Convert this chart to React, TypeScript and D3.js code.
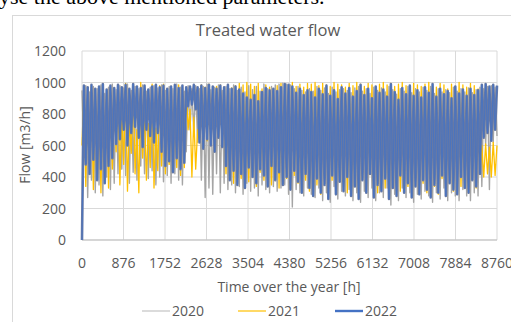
import React from "react";
import * as d3 from "d3";

// hourly flow, sampled every 40 h (220 samples over the year)
const flow2020 = [
  950, 560, 980, 270, 940, 380, 975, 300, 960, 350, 985, 280, 930, 400, 970, 320, 990, 360, 955, 420,
  980, 450, 965, 410, 990, 360, 950, 430, 975, 380, 960, 470, 985, 420, 945, 390, 970, 440, 980, 350,
  965, 400, 985, 370, 950, 410, 975, 360, 960, 420, 990, 380, 970, 350, 945, 560, 980, 700, 960, 680,
  980, 620, 960, 380, 975, 270, 990, 330, 955, 290, 970, 420, 985, 300, 950, 360, 975, 320, 960, 350,
  985, 300, 950, 340, 970, 290, 940, 360, 980, 310, 955, 330, 975, 280, 945, 350, 990, 320, 960, 300,
  975, 340, 985, 310, 990, 330, 995, 350, 990, 290, 985, 210, 960, 320, 975, 300, 950, 280, 940, 330,
  960, 290, 945, 270, 975, 330, 950, 250, 965, 300, 930, 240, 970, 340, 940, 260, 955, 310, 960, 280,
  950, 320, 935, 250, 965, 300, 975, 240, 945, 310, 960, 270, 930, 330, 970, 250, 950, 300, 965, 270,
  940, 330, 975, 222, 955, 290, 925, 250, 960, 330, 945, 270, 975, 300, 935, 240, 960, 290, 940, 260,
  970, 310, 950, 280, 975, 240, 930, 300, 960, 260, 940, 330, 955, 250, 935, 300, 970, 280, 945, 250,
  960, 320, 940, 280, 965, 250, 935, 300, 955, 280, 970, 340, 960, 600, 975, 320, 980, 620, 970, 660,
];

const flow2021 = [
  600, 960, 340, 950, 430, 970, 320, 940, 410, 965, 300, 980, 380, 945, 330, 970, 450, 960, 560, 975,
  350, 820, 480, 995, 310, 760, 550, 985, 420, 700, 300, 1000, 520, 800, 380, 740, 460, 990, 330, 710,
  440, 980, 470, 990, 420, 960, 480, 975, 430, 950, 460, 985, 410, 970, 460, 960, 700, 830, 400, 780,
  450, 700, 660, 985, 700, 970, 630, 990, 680, 960, 650, 975, 700, 985, 640, 960, 420, 980, 380, 965,
  360, 980, 420, 995, 390, 985, 450, 1000, 370, 990, 410, 975, 340, 995, 430, 960, 380, 985, 400, 970,
  350, 960, 420, 980, 330, 995, 440, 960, 390, 985, 320, 1000, 410, 975, 360, 990, 430, 970, 380, 995,
  310, 990, 400, 1000, 350, 980, 290, 995, 420, 985, 330, 975, 380, 1000, 300, 990, 440, 985, 360, 970,
  300, 995, 410, 980, 340, 1000, 280, 990, 390, 975, 320, 995, 430, 985, 350, 970, 300, 990, 380, 1000,
  330, 985, 290, 995, 400, 975, 350, 990, 310, 1000, 420, 980, 340, 965, 300, 995, 380, 985, 320, 975,
  360, 990, 300, 1000, 410, 980, 340, 970, 290, 995, 390, 985, 330, 960, 420, 990, 310, 975, 370, 1000,
  340, 985, 420, 970, 300, 995, 380, 980, 330, 960, 420, 600, 400, 610, 420, 590, 400, 620, 410, 600,
];

const flow2022 = [
  0, 980, 480, 970, 420, 985, 510, 960, 380, 975, 450, 990, 360, 955, 470, 980, 520, 965, 610, 985,
  640, 970, 700, 985, 600, 960, 680, 990, 720, 975, 650, 965, 590, 980, 700, 955, 660, 975, 620, 985,
  680, 970, 560, 980, 470, 960, 500, 975, 430, 985, 520, 965, 450, 980, 490, 970, 850, 975, 860, 985,
  830, 970, 620, 980, 580, 965, 640, 985, 600, 975, 560, 960, 650, 980, 590, 970, 470, 985, 380, 960,
  440, 975, 350, 955, 420, 930, 330, 905, 460, 890, 400, 920, 360, 880, 450, 940, 410, 965, 340, 950,
  470, 960, 380, 945, 430, 970, 350, 990, 400, 985, 320, 975, 440, 935, 370, 960, 300, 920, 420, 950,
  330, 940, 280, 905, 390, 960, 300, 925, 350, 980, 260, 915, 410, 950, 290, 895, 370, 970, 310, 930,
  400, 965, 280, 910, 340, 945, 260, 985, 380, 920, 300, 960, 420, 900, 270, 975, 350, 935, 310, 955,
  390, 910, 260, 990, 330, 940, 280, 890, 410, 965, 300, 925, 360, 980, 270, 915, 340, 950, 290, 905,
  380, 970, 320, 935, 270, 990, 350, 910, 300, 960, 410, 925, 280, 945, 360, 900, 320, 975, 290, 930,
  400, 955, 330, 915, 300, 960, 380, 920, 340, 950, 420, 985, 650, 990, 680, 975, 630, 985, 700, 980,
];

const xTicks = [0, 876, 1752, 2628, 3504, 4380, 5256, 6132, 7008, 7884, 8760];
const yTicks = [0, 200, 400, 600, 800, 1000, 1200];

// halo = wider muted stroke under the series line (dense overplotting look)
const series = [
  { name: "2020", values: flow2020, color: "#A5A5A5", width: 1.4, halo: "" },
  { name: "2021", values: flow2021, color: "#FFC000", width: 1.3, halo: "" },
  { name: "2022", values: flow2022, color: "#4472C4", width: 0.8, halo: "#6679A6" },
];

const font = "'Open Sans', sans-serif";
const textColor = "#595959";

export default function App() {
  const W = 511;
  const H = 322;
  const m = { left: 82, right: 497, top: 51, bottom: 240 };

  const x = d3.scaleLinear().domain([0, 8760]).range([m.left, m.right]);
  const y = d3.scaleLinear().domain([0, 1200]).range([m.bottom, m.top]);
  const step = 8760 / (flow2022.length - 1);

  const line = d3
    .line<number>()
    .x((_, i) => x(i * step))
    .y((d) => y(d));

  const legendPos = [142, 238, 335];
  const legendWidths = [0.8, 1.2, 2.4];

  return (
    <svg
      width={W}
      height={H}
      style={{ position: "fixed", left: 0, top: 0, background: "#fff" }}
    >
      <text x={-1} y={4} fontFamily="'Liberation Serif', serif" fontSize={22} fill="#000">
        yse the above mentioned parameters.
      </text>
      <rect x={12.5} y={15.5} width={520} height={330} fill="#fff" stroke="#D9D9D9" />

      <text x={268} y={36} textAnchor="middle" fontFamily={font} fontSize={16.5} fill={textColor}>
        Treated water flow
      </text>

      {yTicks.map((t) => (
        <line key={"gy" + t} x1={m.left} x2={m.right} y1={y(t)} y2={y(t)} stroke="#D9D9D9" />
      ))}
      {xTicks.map((t) => (
        <line key={"gx" + t} x1={x(t)} x2={x(t)} y1={m.top} y2={m.bottom} stroke="#D9D9D9" />
      ))}
      <line x1={m.left} x2={m.right} y1={y(0)} y2={y(0)} stroke="#BFBFBF" />

      {series.map((s) => (
        <g key={s.name}>
          {s.halo && (
            <path
              d={line(s.values) || ""}
              fill="none"
              stroke={s.halo}
              strokeWidth={2.6}
              strokeLinejoin="round"
            />
          )}
          <path
            d={line(s.values) || ""}
            fill="none"
            stroke={s.color}
            strokeWidth={s.width}
            strokeLinejoin="round"
          />
        </g>
      ))}

      {yTicks.map((t) => (
        <text
          key={"ty" + t}
          x={66}
          y={y(t) + 5}
          textAnchor="end"
          fontFamily={font}
          fontSize={14}
          fill={textColor}
        >
          {t}
        </text>
      ))}
      {xTicks.map((t) => (
        <text
          key={"tx" + t}
          x={x(t)}
          y={268}
          textAnchor="middle"
          fontFamily={font}
          fontSize={14}
          fill={textColor}
        >
          {t}
        </text>
      ))}

      <text x={289} y={292} textAnchor="middle" fontFamily={font} fontSize={14} fill={textColor}>
        Time over the year [h]
      </text>
      <text
        transform={`translate(30,145) rotate(-90)`}
        textAnchor="middle"
        fontFamily={font}
        fontSize={14}
        fill={textColor}
      >
        Flow [m3/h]
      </text>

      {series.map((s, i) => (
        <g key={"lg" + s.name} transform={`translate(${legendPos[i]},311)`}>
          <line x1={0} x2={28} y1={0} y2={0} stroke={s.color} strokeWidth={legendWidths[i]} />
          <text x={30} y={5} fontFamily={font} fontSize={14} fill={textColor}>
            {s.name}
          </text>
        </g>
      ))}
    </svg>
  );
}
